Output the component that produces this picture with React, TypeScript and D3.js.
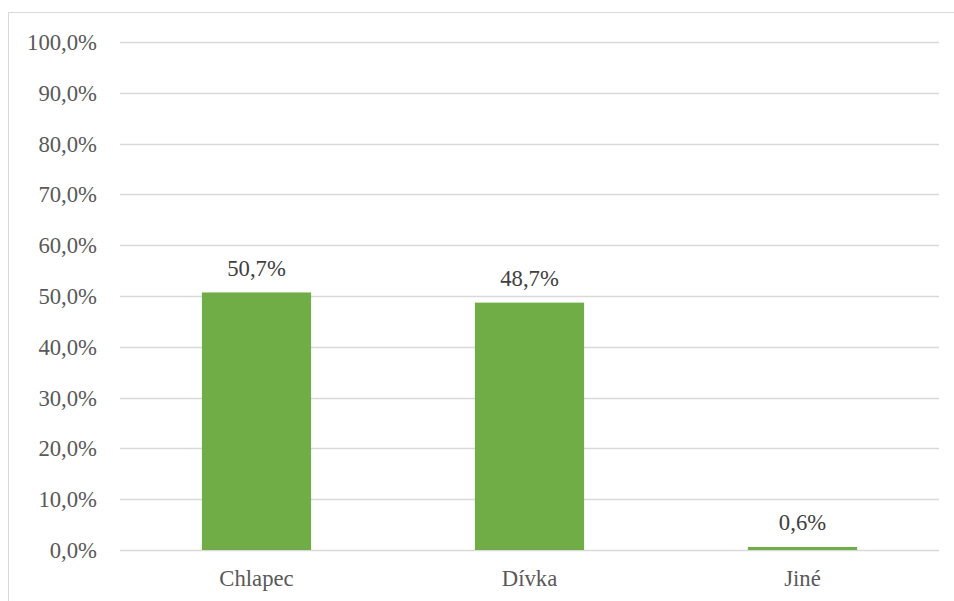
import { scaleBand, scaleLinear } from 'd3';

const categories = ['Chlapec', 'Dívka', 'Jiné'];
const values = [50.7, 48.7, 0.6];
const yTicks = [0, 10, 20, 30, 40, 50, 60, 70, 80, 90, 100];

const fmt = (v: number) => v.toFixed(1).replace('.', ',') + '%';

const width = 954;
const height = 601;
const left = 120, right = 939, top = 42, bottom = 550;

const textColor = '#595959';
const gridColor = '#d9d9d9';

export default function App() {
  const x = scaleBand()
    .domain(categories)
    .range([left, right])
    .paddingInner(0.6)
    .paddingOuter(0.3);

  const y = scaleLinear()
    .domain([0, 100])
    .range([bottom, top]);

  return (
    <svg
      width={width}
      height={height}
      style={{ position: 'absolute', left: 0, top: 0, background: '#fff' }}
    >
      <style>{`.lbl { font-family: 'Liberation Serif', 'Times New Roman', Times, serif; font-size: 22.7px; }`}</style>

      {/* chart frame, right and bottom edges fall outside the view */}
      <rect x={8.5} y={12.5} width={1000} height={1000} fill="#fff" stroke={gridColor} strokeWidth={1} />

      {/* gridlines */}
      {yTicks.map(t => (
        <line
          key={'g' + t}
          x1={left}
          x2={right}
          y1={Math.round(y(t)) + 0.5}
          y2={Math.round(y(t)) + 0.5}
          stroke={gridColor}
          strokeWidth={1.5}
        />
      ))}

      {/* y tick labels */}
      {yTicks.map(t => (
        <text key={'t' + t} className="lbl" x={97} y={y(t) + 8} textAnchor="end" fill={textColor}>
          {fmt(t)}
        </text>
      ))}

      {/* bars */}
      {values.map((v, i) => (
        <rect
          key={'b' + i}
          x={x(categories[i]) || 0}
          y={y(v)}
          width={x.bandwidth()}
          height={bottom - y(v)}
          fill="#70ad47"
        />
      ))}

      {/* value labels */}
      {values.map((v, i) => (
        <text
          key={'v' + i}
          className="lbl"
          x={(x(categories[i]) || 0) + x.bandwidth() / 2}
          y={y(v) - 16.5}
          textAnchor="middle"
          fill="#404040"
        >
          {fmt(v)}
        </text>
      ))}

      {/* category labels */}
      {categories.map(c => (
        <text
          key={'c' + c}
          className="lbl"
          x={(x(c) || 0) + x.bandwidth() / 2}
          y={586}
          textAnchor="middle"
          fill={textColor}
        >
          {c}
        </text>
      ))}
    </svg>
  );
}
